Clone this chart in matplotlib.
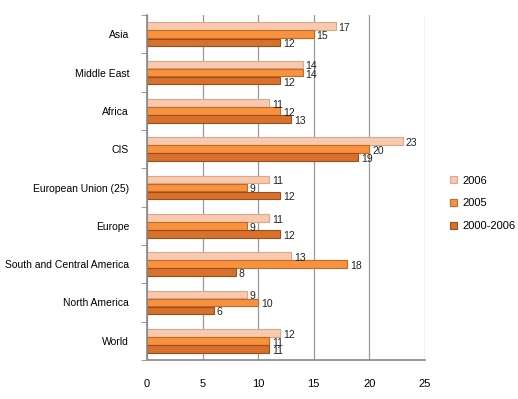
import numpy as np
import matplotlib
matplotlib.use("Agg")
import matplotlib.pyplot as plt
from matplotlib.ticker import FixedLocator

plt.rcParams['font.family'] = ['Liberation Sans', 'DejaVu Sans']

regions = ['Asia', 'Middle East', 'Africa', 'CIS', 'European Union (25)',
           'Europe', 'South and Central America', 'North America', 'World']
v2006 = [17, 14, 11, 23, 11, 11, 13, 9, 12]
v2005 = [15, 14, 12, 20, 9, 9, 18, 10, 11]
v0006 = [12, 12, 13, 19, 12, 12, 8, 6, 11]
series = ['2006', '2005', '2000-2006']
colors = ['#F8C9AE', '#F7923E', '#D8712C']
edges = ['#D9A78A', '#C8672A', '#9E4E1B']

fig = plt.figure(figsize=(5.18, 3.99), dpi=100)
ax = fig.add_axes([0.284, 0.098, 0.536, 0.864])

y = np.arange(len(regions))
h = 0.21
handles = []
for k, (vals, c, ec, name) in enumerate(zip([v2006, v2005, v0006], colors, edges, series)):
    pos = y + (k - 1) * h
    b = ax.barh(pos, vals, height=h * 0.95, color=c, edgecolor=ec, linewidth=0.8, label=name)
    handles.append(b)
    for p, v in zip(pos, vals):
        ax.text(v + 0.25, p + 0.05, str(v), va='center', ha='left', fontsize=7.5, color='#222222')

ax.set_xlim(0, 25)
ax.set_ylim(len(regions) - 0.5, -0.5)
ax.set_xticks([0, 5, 10, 15, 20, 25])
ax.set_yticks(y)
ax.set_yticklabels(regions, fontsize=7.5)
ax.yaxis.set_minor_locator(FixedLocator(np.arange(-0.5, len(regions), 1)))
ax.tick_params(axis='y', which='major', length=0, pad=13)
ax.tick_params(axis='y', which='minor', length=4, color='#888888')
ax.tick_params(axis='x', length=0, labelsize=8, pad=14)
ax.xaxis.grid(True, color='#999999', linewidth=0.9)
ax.set_axisbelow(True)
for s in ['top', 'right']:
    ax.spines[s].set_visible(False)
for s in ['left', 'bottom']:
    ax.spines[s].set_color('#888888')
    ax.spines[s].set_linewidth(1.2)

fig.legend(handles=handles, labels=series, loc='upper left', bbox_to_anchor=(0.85, 0.585),
           frameon=False, fontsize=8, handlelength=0.6, handleheight=0.6,
           labelspacing=1.15, handletextpad=0.5)

fig.savefig('out.png', dpi=100)
